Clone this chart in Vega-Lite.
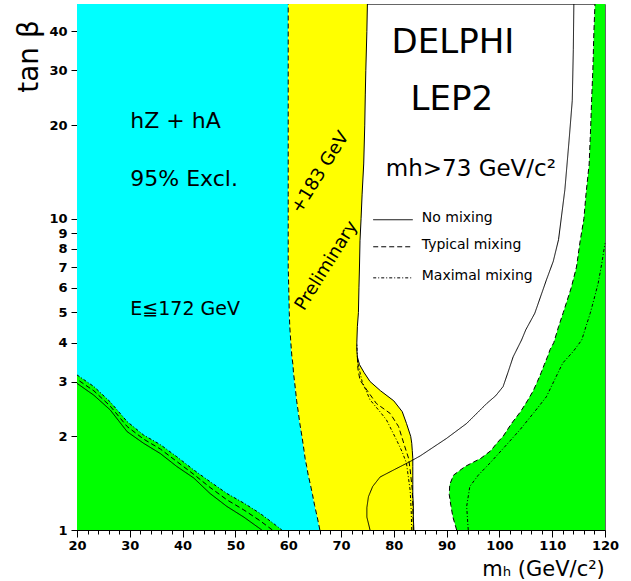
{
  "$schema": "https://vega.github.io/schema/vega-lite/v6.json",
  "width": 528,
  "height": 526,
  "autosize": "none",
  "padding": {"left": 77, "top": 4, "right": 26, "bottom": 51},
  "background": "white",
  "config": {
    "view": {"stroke": "#666", "strokeWidth": 1},
    "font": "DejaVu Sans",
    "text": {"font": "DejaVu Sans", "color": "black"}
  },
  "resolve": {"axis": {"x": "independent", "y": "independent"}},
  "datasets": {
    "bands": [
      {"tb": 1.0, "c": 66.0, "yb": 83.8, "g": 91.9},
      {"tb": 1.1, "c": 65.5, "yb": 83.7, "g": 91.2},
      {"tb": 1.2, "c": 65.0, "yb": 83.7, "g": 90.8},
      {"tb": 1.3, "c": 64.6, "yb": 83.6, "g": 90.5},
      {"tb": 1.4, "c": 64.2, "yb": 83.6, "g": 90.6},
      {"tb": 1.5, "c": 63.8, "yb": 83.6, "g": 91.3},
      {"tb": 1.6, "c": 63.5, "yb": 83.6, "g": 93.5},
      {"tb": 1.7, "c": 63.2, "yb": 83.6, "g": 96.5},
      {"tb": 1.8, "c": 63.0, "yb": 83.5, "g": 98.4},
      {"tb": 1.9, "c": 62.8, "yb": 83.4, "g": 99.5},
      {"tb": 2.0, "c": 62.6, "yb": 83.2, "g": 100.7},
      {"tb": 2.2, "c": 62.2, "yb": 82.4, "g": 102.3},
      {"tb": 2.4, "c": 61.9, "yb": 81.6, "g": 104.0},
      {"tb": 2.6, "c": 61.6, "yb": 80.0, "g": 105.3},
      {"tb": 2.8, "c": 61.4, "yb": 77.5, "g": 106.4},
      {"tb": 3.0, "c": 61.2, "yb": 75.5, "g": 107.2},
      {"tb": 3.2, "c": 61.0, "yb": 74.4, "g": 107.9},
      {"tb": 3.4, "c": 60.9, "yb": 73.5, "g": 108.5},
      {"tb": 3.6, "c": 60.7, "yb": 73.1, "g": 109.1},
      {"tb": 3.8, "c": 60.6, "yb": 73.0, "g": 109.6},
      {"tb": 4.0, "c": 60.5, "yb": 73.0, "g": 110.3},
      {"tb": 4.5, "c": 60.3, "yb": 73.1, "g": 111.2},
      {"tb": 5, "c": 60.2, "yb": 73.3, "g": 112.1},
      {"tb": 6, "c": 60.1, "yb": 73.4, "g": 113.6},
      {"tb": 7, "c": 60.0, "yb": 73.5, "g": 114.6},
      {"tb": 8.5, "c": 60.0, "yb": 73.6, "g": 115.3},
      {"tb": 10, "c": 60.0, "yb": 73.8, "g": 116.0},
      {"tb": 12, "c": 60.0, "yb": 74.0, "g": 116.4},
      {"tb": 15, "c": 60.0, "yb": 74.3, "g": 117.0},
      {"tb": 20, "c": 60.0, "yb": 74.5, "g": 117.3},
      {"tb": 25, "c": 60.0, "yb": 74.6, "g": 117.5},
      {"tb": 30, "c": 60.0, "yb": 74.7, "g": 117.7},
      {"tb": 40, "c": 60.0, "yb": 74.9, "g": 117.9},
      {"tb": 49, "c": 60.0, "yb": 75.0, "g": 118.1}
    ],
    "gl": [
      {"m": 20, "tb": 3.15},
      {"m": 23.2, "tb": 2.89},
      {"m": 26.3, "tb": 2.58},
      {"m": 29.5, "tb": 2.23},
      {"m": 32.6, "tb": 2.02},
      {"m": 35.8, "tb": 1.88},
      {"m": 38.9, "tb": 1.72},
      {"m": 42.1, "tb": 1.56},
      {"m": 45.2, "tb": 1.43},
      {"m": 48.4, "tb": 1.31},
      {"m": 51.6, "tb": 1.22},
      {"m": 54.7, "tb": 1.13},
      {"m": 57.2, "tb": 1.05},
      {"m": 58.8, "tb": 1.0}
    ],
    "lines": [
      {"k": "sR", "d": "solid", "m": 114.1, "tb": 49},
      {"k": "sR", "d": "solid", "m": 114.0, "tb": 35},
      {"k": "sR", "d": "solid", "m": 113.8, "tb": 24},
      {"k": "sR", "d": "solid", "m": 113.2, "tb": 17.9},
      {"k": "sR", "d": "solid", "m": 112.4, "tb": 12.4},
      {"k": "sR", "d": "solid", "m": 111.2, "tb": 8.57},
      {"k": "sR", "d": "solid", "m": 110.2, "tb": 7.3},
      {"k": "sR", "d": "solid", "m": 108.9, "tb": 6.36},
      {"k": "sR", "d": "solid", "m": 106.7, "tb": 4.97},
      {"k": "sR", "d": "solid", "m": 105.0, "tb": 4.4},
      {"k": "sR", "d": "solid", "m": 104.2, "tb": 4.08},
      {"k": "sR", "d": "solid", "m": 102.6, "tb": 3.6},
      {"k": "sR", "d": "solid", "m": 101.6, "tb": 3.2},
      {"k": "sR", "d": "solid", "m": 100.7, "tb": 2.89},
      {"k": "sR", "d": "solid", "m": 99.3, "tb": 2.7},
      {"k": "sR", "d": "solid", "m": 97.6, "tb": 2.55},
      {"k": "sR", "d": "solid", "m": 93.8, "tb": 2.2},
      {"k": "sR", "d": "solid", "m": 90.0, "tb": 1.97},
      {"k": "sR", "d": "solid", "m": 85.0, "tb": 1.73},
      {"k": "sR", "d": "solid", "m": 83.1, "tb": 1.66},
      {"k": "sR", "d": "solid", "m": 80.0, "tb": 1.56},
      {"k": "sR", "d": "solid", "m": 77.4, "tb": 1.48},
      {"k": "sR", "d": "solid", "m": 76.0, "tb": 1.38},
      {"k": "sR", "d": "solid", "m": 75.2, "tb": 1.28},
      {"k": "sR", "d": "solid", "m": 74.9, "tb": 1.18},
      {"k": "sR", "d": "solid", "m": 74.9, "tb": 1.1},
      {"k": "sR", "d": "solid", "m": 75.5, "tb": 1.0},
      {"k": "sL", "d": "solid", "m": 20, "tb": 2.96},
      {"k": "sL", "d": "solid", "m": 23.2, "tb": 2.71},
      {"k": "sL", "d": "solid", "m": 26.3, "tb": 2.43},
      {"k": "sL", "d": "solid", "m": 29.5, "tb": 2.07},
      {"k": "sL", "d": "solid", "m": 32.6, "tb": 1.9},
      {"k": "sL", "d": "solid", "m": 35.8, "tb": 1.76},
      {"k": "sL", "d": "solid", "m": 38.9, "tb": 1.6},
      {"k": "sL", "d": "solid", "m": 42.1, "tb": 1.47},
      {"k": "sL", "d": "solid", "m": 45.2, "tb": 1.31},
      {"k": "sL", "d": "solid", "m": 48.4, "tb": 1.19},
      {"k": "sL", "d": "solid", "m": 51.6, "tb": 1.1},
      {"k": "sL", "d": "solid", "m": 55.0, "tb": 1.0},
      {"k": "dL", "d": "dashed", "m": 20, "tb": 3.05},
      {"k": "dL", "d": "dashed", "m": 23.2, "tb": 2.8},
      {"k": "dL", "d": "dashed", "m": 26.3, "tb": 2.5},
      {"k": "dL", "d": "dashed", "m": 29.5, "tb": 2.15},
      {"k": "dL", "d": "dashed", "m": 32.6, "tb": 1.96},
      {"k": "dL", "d": "dashed", "m": 35.8, "tb": 1.82},
      {"k": "dL", "d": "dashed", "m": 38.9, "tb": 1.66},
      {"k": "dL", "d": "dashed", "m": 42.1, "tb": 1.51},
      {"k": "dL", "d": "dashed", "m": 45.2, "tb": 1.37},
      {"k": "dL", "d": "dashed", "m": 48.4, "tb": 1.25},
      {"k": "dL", "d": "dashed", "m": 51.6, "tb": 1.16},
      {"k": "dL", "d": "dashed", "m": 54.7, "tb": 1.07},
      {"k": "dL", "d": "dashed", "m": 57.0, "tb": 1.0},
      {"k": "dY", "d": "dashed", "m": 73.1, "tb": 3.6},
      {"k": "dY", "d": "dashed", "m": 73.2, "tb": 3.3},
      {"k": "dY", "d": "dashed", "m": 73.6, "tb": 3.03},
      {"k": "dY", "d": "dashed", "m": 75.0, "tb": 2.8},
      {"k": "dY", "d": "dashed", "m": 76.7, "tb": 2.55},
      {"k": "dY", "d": "dashed", "m": 79.3, "tb": 2.37},
      {"k": "dY", "d": "dashed", "m": 80.9, "tb": 2.15},
      {"k": "dY", "d": "dashed", "m": 82.1, "tb": 1.85},
      {"k": "dY", "d": "dashed", "m": 82.8, "tb": 1.7},
      {"k": "dY", "d": "dashed", "m": 83.1, "tb": 1.56},
      {"k": "dY", "d": "dashed", "m": 83.5, "tb": 1.35},
      {"k": "dY", "d": "dashed", "m": 83.6, "tb": 1.2},
      {"k": "dY", "d": "dashed", "m": 83.7, "tb": 1.0},
      {"k": "xY", "d": "dashdot", "m": 73.0, "tb": 4.0},
      {"k": "xY", "d": "dashdot", "m": 73.1, "tb": 3.6},
      {"k": "xY", "d": "dashdot", "m": 73.2, "tb": 3.43},
      {"k": "xY", "d": "dashdot", "m": 74.0, "tb": 3.0},
      {"k": "xY", "d": "dashdot", "m": 75.5, "tb": 2.62},
      {"k": "xY", "d": "dashdot", "m": 77.2, "tb": 2.42},
      {"k": "xY", "d": "dashdot", "m": 78.6, "tb": 2.26},
      {"k": "xY", "d": "dashdot", "m": 80.5, "tb": 1.95},
      {"k": "xY", "d": "dashdot", "m": 81.6, "tb": 1.78},
      {"k": "xY", "d": "dashdot", "m": 82.4, "tb": 1.64},
      {"k": "xY", "d": "dashdot", "m": 83.1, "tb": 1.34},
      {"k": "xY", "d": "dashdot", "m": 83.3, "tb": 1.15},
      {"k": "xY", "d": "dashdot", "m": 83.4, "tb": 1.0},
      {"k": "xG", "d": "dashdot", "m": 120, "tb": 8.34},
      {"k": "xG", "d": "dashdot", "m": 119.4, "tb": 7.2},
      {"k": "xG", "d": "dashdot", "m": 118.7, "tb": 6.2},
      {"k": "xG", "d": "dashdot", "m": 117.9, "tb": 5.5},
      {"k": "xG", "d": "dashdot", "m": 117.2, "tb": 4.97},
      {"k": "xG", "d": "dashdot", "m": 116.2, "tb": 4.4},
      {"k": "xG", "d": "dashdot", "m": 115.6, "tb": 4.08},
      {"k": "xG", "d": "dashdot", "m": 114.0, "tb": 3.75},
      {"k": "xG", "d": "dashdot", "m": 112.0, "tb": 3.44},
      {"k": "xG", "d": "dashdot", "m": 110.5, "tb": 3.05},
      {"k": "xG", "d": "dashdot", "m": 108.9, "tb": 2.68},
      {"k": "xG", "d": "dashdot", "m": 106.5, "tb": 2.38},
      {"k": "xG", "d": "dashdot", "m": 103.9, "tb": 2.1},
      {"k": "xG", "d": "dashdot", "m": 101.0, "tb": 1.85},
      {"k": "xG", "d": "dashdot", "m": 98.2, "tb": 1.64},
      {"k": "xG", "d": "dashdot", "m": 96.0, "tb": 1.5},
      {"k": "xG", "d": "dashdot", "m": 94.4, "tb": 1.38},
      {"k": "xG", "d": "dashdot", "m": 93.8, "tb": 1.19},
      {"k": "xG", "d": "dashdot", "m": 94.1, "tb": 1.0}
    ],
    "leg": [
      {"d": "solid", "m1": 76.1, "m2": 83.6, "mt": 85.3, "tb": 9.93, "label": "No mixing"},
      {"d": "dashed", "m1": 76.1, "m2": 83.6, "mt": 85.3, "tb": 8.13, "label": "Typical mixing"},
      {"d": "dashdot", "m1": 76.1, "m2": 83.6, "mt": 85.3, "tb": 6.46, "label": "Maximal mixing"}
    ],
    "big": [
      {"m": 91.2, "tb": 34.1, "t": "DELPHI"},
      {"m": 91.0, "tb": 22.4, "t": "LEP2"}
    ],
    "mh": [{"m": 94.6, "tb": 13.68, "t": "mh>73 GeV/c²"}],
    "hz": [
      {"m": 30.1, "tb": 19.57, "t": "hZ + hA"},
      {"m": 30.1, "tb": 12.77, "t": "95% Excl."}
    ],
    "e172": [{"m": 30.1, "tb": 4.91, "t": "E≦172 GeV"}],
    "rot": [
      {"m": 66.1, "tb": 14.06, "t": "+183 GeV"},
      {"m": 67.3, "tb": 7.06, "t": "Preliminary"}
    ]
  },
  "layer": [
    {
      "data": {"name": "bands"},
      "mark": {"type": "area", "orient": "horizontal", "color": "#00FFFF"},
      "encoding": {
        "y": {
          "field": "tb", "type": "quantitative",
          "scale": {"type": "log", "domain": [1, 49], "nice": false},
          "axis": {
            "orient": "left",
            "values": [1, 2, 3, 4, 5, 6, 7, 8, 9, 10, 20, 30, 40],
            "format": "d",
            "grid": false,
            "labelOverlap": false,
            "tickSize": 6,
            "tickColor": "black",
            "domainColor": "black",
            "labelFont": "DejaVu Sans",
            "labelFontWeight": "bold",
            "labelFontSize": 13,
            "labelColor": "black",
            "labelPadding": 4,
            "title": "tan β",
            "titleFont": "DejaVu Sans",
            "titleFontWeight": "normal",
            "titleFontSize": 28,
            "titleColor": "black",
            "titleAngle": -90,
            "titleAlign": "center",
            "titleBaseline": "middle",
            "titleX": -48,
            "titleY": 52
          }
        },
        "x": {
          "field": "c", "type": "quantitative",
          "scale": {"domain": [20, 120], "nice": false, "zero": false},
          "axis": {
            "orient": "bottom",
            "values": [20, 22, 24, 26, 28, 30, 32, 34, 36, 38, 40, 42, 44, 46, 48, 50, 52, 54, 56, 58, 60, 62, 64, 66, 68, 70, 72, 74, 76, 78, 80, 82, 84, 86, 88, 90, 92, 94, 96, 98, 100, 102, 104, 106, 108, 110, 112, 114, 116, 118, 120],
            "labelExpr": "datum.value % 10 === 0 ? datum.label : ''",
            "tickSize": {"condition": {"test": "datum.value % 10 === 0", "value": 7}, "value": 4},
            "grid": false,
            "labelOverlap": false,
            "labelFlush": false,
            "tickColor": "black",
            "domainColor": "black",
            "labelFont": "DejaVu Sans",
            "labelFontWeight": "bold",
            "labelFontSize": 13,
            "labelColor": "black",
            "labelPadding": 2,
            "title": "mₕ (GeV/c²)",
            "titleFont": "DejaVu Sans",
            "titleFontWeight": "normal",
            "titleFontSize": 21,
            "titleColor": "black",
            "titleAlign": "center",
            "titleBaseline": "alphabetic",
            "titleX": 466,
            "titleY": 45
          }
        },
        "x2": {"datum": 20}
      }
    },
    {
      "data": {"name": "bands"},
      "mark": {"type": "area", "orient": "horizontal", "color": "#FFFF00"},
      "encoding": {
        "y": {"field": "tb", "type": "quantitative", "axis": null},
        "x": {"field": "c", "type": "quantitative", "axis": null},
        "x2": {"field": "yb"}
      }
    },
    {
      "data": {"name": "bands"},
      "mark": {"type": "area", "orient": "horizontal", "color": "#00FF00"},
      "encoding": {
        "y": {"field": "tb", "type": "quantitative", "axis": null},
        "x": {"field": "g", "type": "quantitative", "axis": null},
        "x2": {"datum": 120}
      }
    },
    {
      "data": {"name": "gl"},
      "mark": {"type": "area", "color": "#00FF00"},
      "encoding": {
        "x": {"field": "m", "type": "quantitative", "axis": null},
        "y": {"field": "tb", "type": "quantitative", "axis": null},
        "y2": {"datum": 1}
      }
    },
    {
      "data": {"name": "bands"},
      "mark": {"type": "line", "orient": "horizontal", "color": "black", "strokeWidth": 1, "strokeDash": [5, 3]},
      "encoding": {
        "y": {"field": "tb", "type": "quantitative", "axis": null},
        "x": {"field": "c", "type": "quantitative", "axis": null},
        "order": {"field": "tb", "type": "quantitative"}
      }
    },
    {
      "data": {"name": "bands"},
      "mark": {"type": "line", "orient": "horizontal", "color": "black", "strokeWidth": 1},
      "encoding": {
        "y": {"field": "tb", "type": "quantitative", "axis": null},
        "x": {"field": "yb", "type": "quantitative", "axis": null},
        "order": {"field": "tb", "type": "quantitative"}
      }
    },
    {
      "data": {"name": "bands"},
      "mark": {"type": "line", "orient": "horizontal", "color": "black", "strokeWidth": 1, "strokeDash": [5, 3]},
      "encoding": {
        "y": {"field": "tb", "type": "quantitative", "axis": null},
        "x": {"field": "g", "type": "quantitative", "axis": null},
        "order": {"field": "tb", "type": "quantitative"}
      }
    },
    {
      "data": {"name": "gl"},
      "mark": {"type": "line", "color": "black", "strokeWidth": 1, "strokeDash": [3, 2, 1, 2]},
      "encoding": {
        "x": {"field": "m", "type": "quantitative", "axis": null},
        "y": {"field": "tb", "type": "quantitative", "axis": null}
      }
    },
    {
      "data": {"name": "lines"},
      "mark": {"type": "line", "color": "black", "strokeWidth": 1},
      "encoding": {
        "x": {"field": "m", "type": "quantitative", "axis": null},
        "y": {"field": "tb", "type": "quantitative", "axis": null},
        "detail": {"field": "k", "type": "nominal"},
        "order": {"field": "tb", "type": "quantitative"},
        "strokeDash": {
          "field": "d", "type": "nominal", "legend": null,
          "scale": {"domain": ["solid", "dashed", "dashdot"], "range": [[1, 0], [5, 3], [3, 2, 1, 2]]}
        }
      }
    },
    {
      "data": {"name": "leg"},
      "mark": {"type": "rule", "color": "black", "strokeWidth": 1},
      "encoding": {
        "x": {"field": "m1", "type": "quantitative", "axis": null},
        "x2": {"field": "m2"},
        "y": {"field": "tb", "type": "quantitative", "axis": null},
        "strokeDash": {"field": "d", "type": "nominal", "legend": null}
      }
    },
    {
      "data": {"name": "leg"},
      "mark": {"type": "text", "align": "left", "baseline": "alphabetic", "fontSize": 14, "dy": 2, "font": "DejaVu Sans"},
      "encoding": {
        "x": {"field": "mt", "type": "quantitative", "axis": null},
        "y": {"field": "tb", "type": "quantitative", "axis": null},
        "text": {"field": "label"}
      }
    },
    {
      "data": {"name": "big"},
      "mark": {"type": "text", "align": "center", "baseline": "alphabetic", "fontSize": 34, "font": "DejaVu Sans"},
      "encoding": {
        "x": {"field": "m", "type": "quantitative", "axis": null},
        "y": {"field": "tb", "type": "quantitative", "axis": null},
        "text": {"field": "t"}
      }
    },
    {
      "data": {"name": "mh"},
      "mark": {"type": "text", "align": "center", "baseline": "alphabetic", "fontSize": 23, "font": "DejaVu Sans"},
      "encoding": {
        "x": {"field": "m", "type": "quantitative", "axis": null},
        "y": {"field": "tb", "type": "quantitative", "axis": null},
        "text": {"field": "t"}
      }
    },
    {
      "data": {"name": "hz"},
      "mark": {"type": "text", "align": "left", "baseline": "alphabetic", "fontSize": 22, "font": "DejaVu Sans"},
      "encoding": {
        "x": {"field": "m", "type": "quantitative", "axis": null},
        "y": {"field": "tb", "type": "quantitative", "axis": null},
        "text": {"field": "t"}
      }
    },
    {
      "data": {"name": "e172"},
      "mark": {"type": "text", "align": "left", "baseline": "alphabetic", "fontSize": 19, "font": "DejaVu Sans"},
      "encoding": {
        "x": {"field": "m", "type": "quantitative", "axis": null},
        "y": {"field": "tb", "type": "quantitative", "axis": null},
        "text": {"field": "t"}
      }
    },
    {
      "data": {"name": "rot"},
      "mark": {"type": "text", "align": "center", "baseline": "middle", "fontSize": 18, "angle": -58, "font": "DejaVu Sans"},
      "encoding": {
        "x": {"field": "m", "type": "quantitative", "axis": null},
        "y": {"field": "tb", "type": "quantitative", "axis": null},
        "text": {"field": "t"}
      }
    }
  ]
}
